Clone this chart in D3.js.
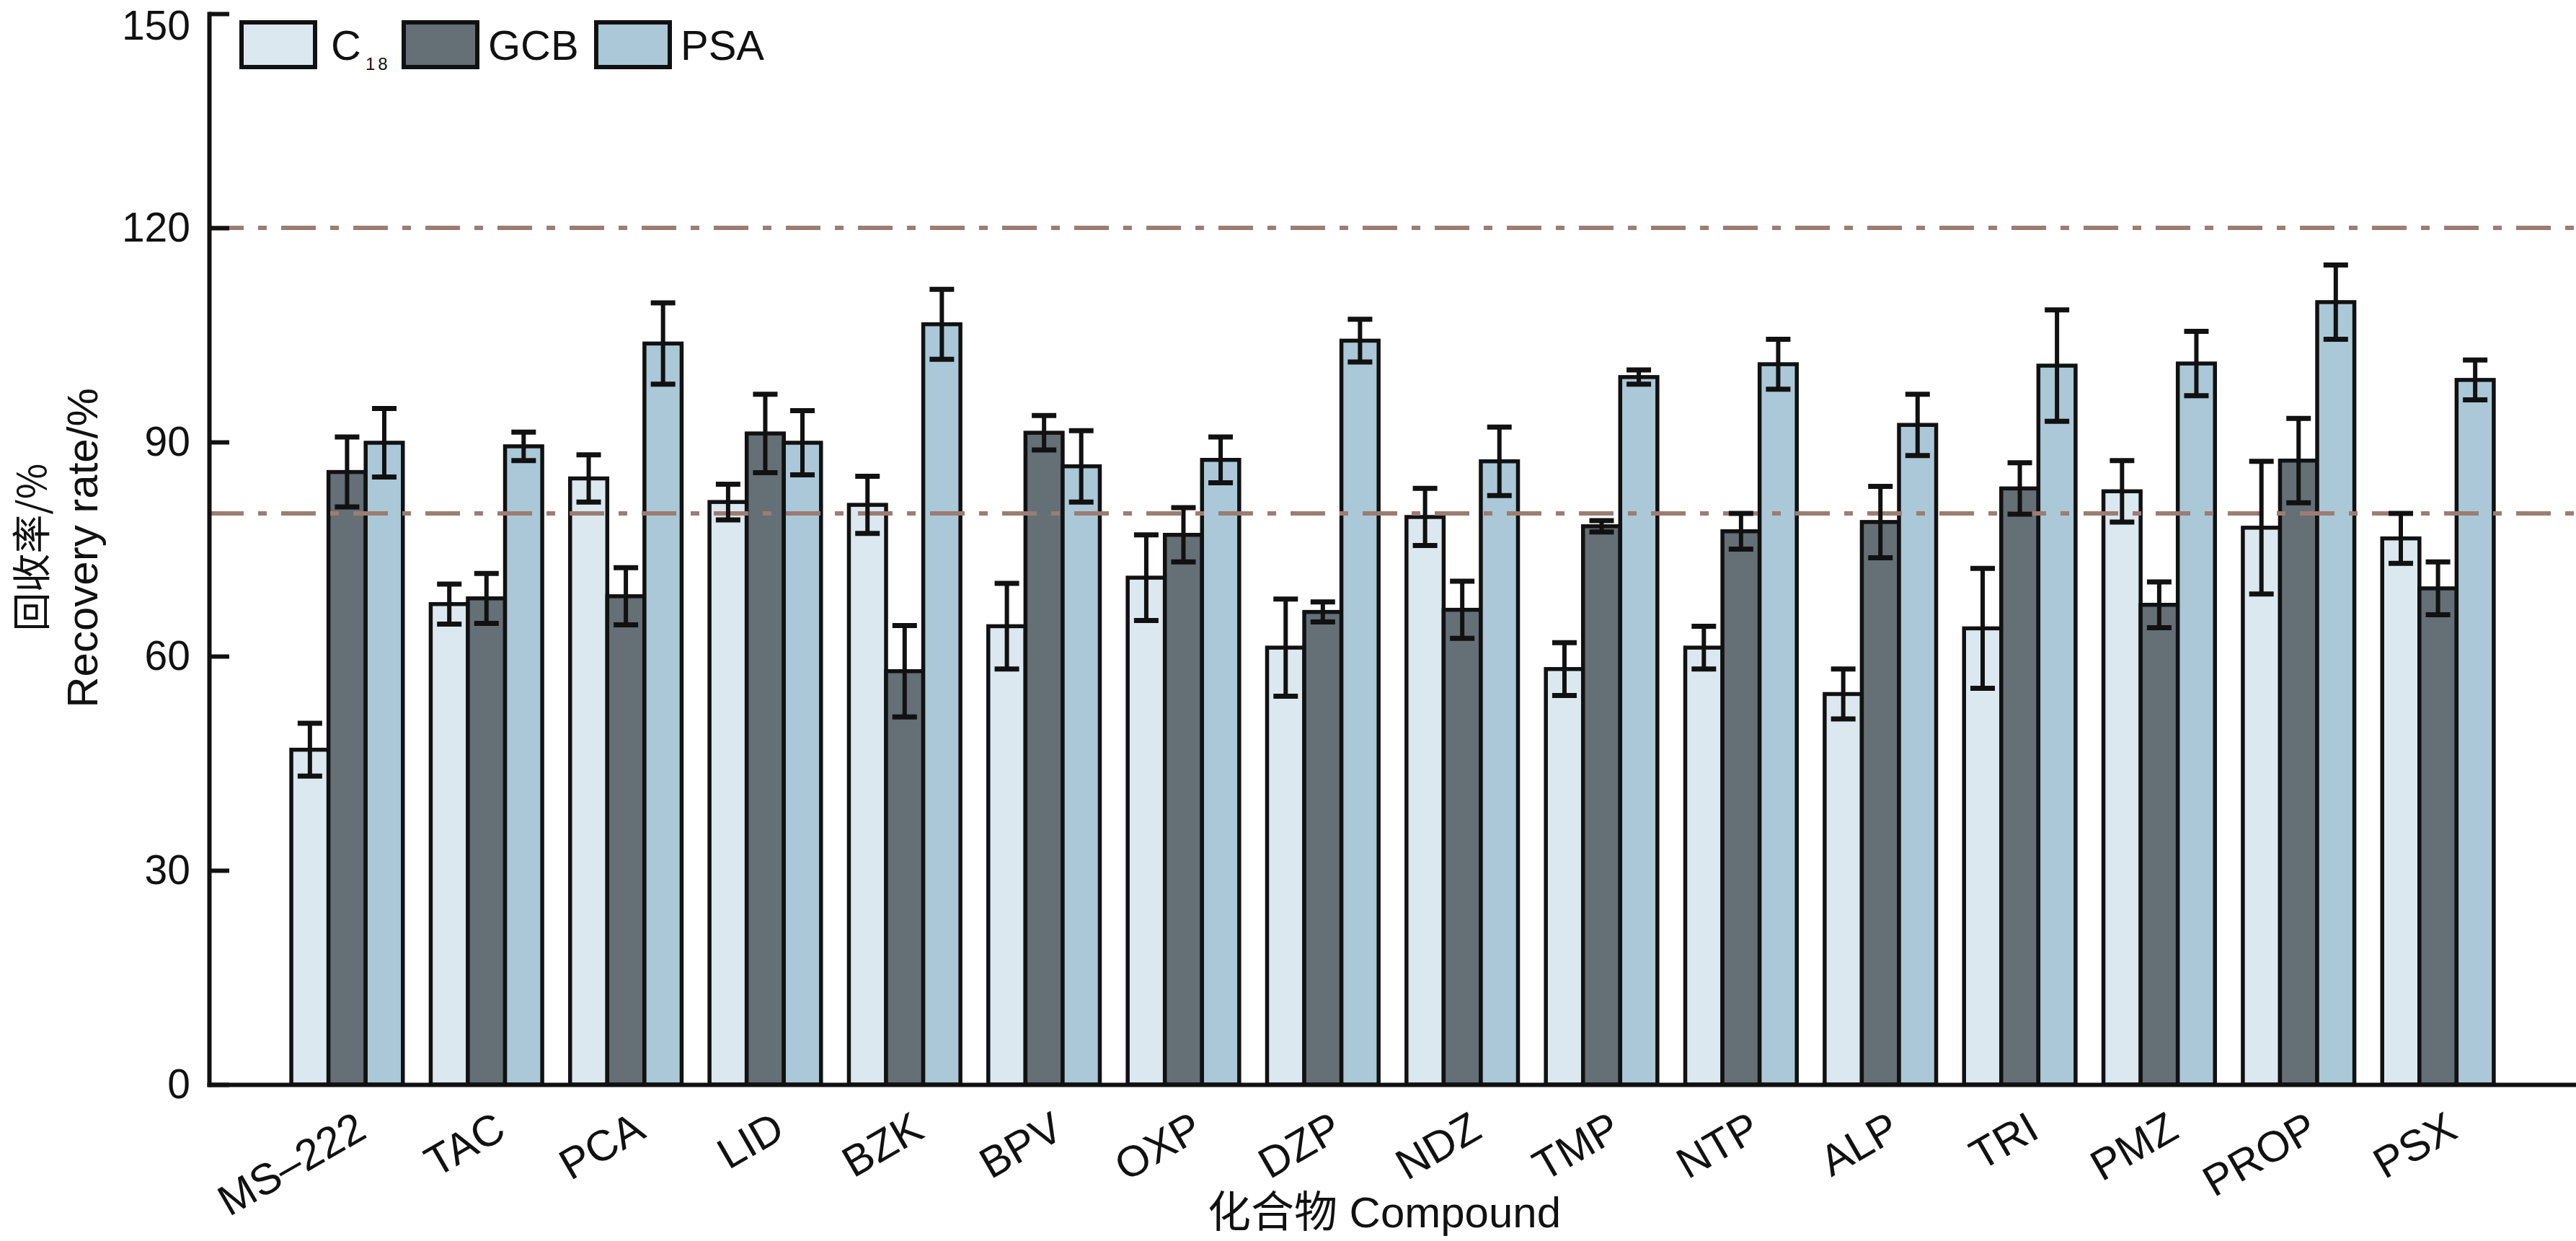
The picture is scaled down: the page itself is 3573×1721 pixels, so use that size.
<!DOCTYPE html>
<html>
<head>
<meta charset="utf-8">
<script src="https://cdn.jsdelivr.net/npm/d3@7"></script>
<style>
  body { margin: 0; background: #fff; }
  text { font-family: "Liberation Sans", Arial, sans-serif; fill: #111; }
</style>
</head>
<body>
<svg></svg>
<script>
const COMPOUNDS = ["MS–222", "TAC", "PCA", "LID", "BZK", "BPV", "OXP", "DZP",
  "NDZ", "TMP", "NTP", "ALP", "TRI", "PMZ", "PROP", "PSX"];
const SORBENTS = ["C18", "GCB", "PSA"];

const C18_MEAN = [46.9, 67.3, 84.9, 81.6, 81.2, 64.2, 71.0, 61.2, 79.5, 58.2, 61.2, 54.7, 63.9, 83.1, 78.0, 76.5];
const C18_ERR = [3.7, 2.8, 3.3, 2.5, 4.0, 6.0, 6.0, 6.8, 4.0, 3.7, 3.0, 3.5, 8.4, 4.3, 9.3, 3.5];
const GCB_MEAN = [85.8, 68.1, 68.4, 91.2, 57.9, 91.3, 77.0, 66.2, 66.5, 78.2, 77.5, 78.8, 83.5, 67.2, 87.4, 69.5];
const GCB_ERR = [4.9, 3.5, 4.0, 5.5, 6.4, 2.4, 3.8, 1.4, 4.0, 0.8, 2.5, 5.0, 3.6, 3.2, 5.9, 3.7];
const PSA_MEAN = [89.9, 89.4, 103.8, 89.9, 106.5, 86.6, 87.5, 104.2, 87.3, 99.1, 100.9, 92.4, 100.7, 101.0, 109.6, 98.7];
const PSA_ERR = [4.8, 2.0, 5.7, 4.5, 4.9, 5.0, 3.2, 3.0, 4.8, 1.0, 3.5, 4.3, 7.8, 4.5, 5.2, 2.8];

const Y_TICKS = [0, 30, 60, 90, 120, 150];
const LIMITS = [80, 120];

const COLORS = { C18: "#dce8ef", GCB: "#646f76", PSA: "#aac8d7" };
const LIMIT_COLOR = "#9b7d73";

const WIDTH = 3573;
const HEIGHT = 1721;
const AXIS_X = 290;
const AXIS_Y = 1504;

const means = { C18: C18_MEAN, GCB: GCB_MEAN, PSA: PSA_MEAN };
const errs = { C18: C18_ERR, GCB: GCB_ERR, PSA: PSA_ERR };

const data = [];
COMPOUNDS.forEach((c, i) => {
  SORBENTS.forEach((s) => {
    data.push({ compound: c, sorbent: s, value: means[s][i], err: errs[s][i] });
  });
});

const svg = d3.select("svg").attr("width", WIDTH).attr("height", HEIGHT);

const xScale = d3.scaleBand()
  .domain(COMPOUNDS)
  .range([AXIS_X, WIDTH])
  .paddingInner(0.2)
  .paddingOuter(0.59);

const xInner = d3.scaleBand()
  .domain(SORBENTS)
  .range([0, xScale.bandwidth()]);

const yScale = d3.scaleLinear().domain([0, 150]).range([AXIS_Y, 19]);

//bars
svg.append("g")
  .selectAll("rect")
  .data(data)
  .enter()
  .append("rect")
  .attr("x", (d) => xScale(d.compound) + xInner(d.sorbent))
  .attr("y", (d) => yScale(d.value))
  .attr("width", xInner.bandwidth())
  .attr("height", (d) => AXIS_Y - yScale(d.value))
  .attr("fill", (d) => COLORS[d.sorbent])
  .attr("stroke", "#111")
  .attr("stroke-width", 5.5);

//80% and 120% dash-dot lines
svg.append("g")
  .selectAll("line")
  .data(LIMITS)
  .enter()
  .append("line")
  .attr("x1", AXIS_X)
  .attr("x2", WIDTH)
  .attr("y1", (d) => yScale(d))
  .attr("y2", (d) => yScale(d))
  .attr("stroke", LIMIT_COLOR)
  .attr("stroke-width", 6)
  .attr("stroke-dasharray", "48,20,12,20");

//error bars
const CAP = 34;
const errG = svg.append("g").attr("stroke", "#111").attr("stroke-width", 6);
const cx = (d) => xScale(d.compound) + xInner(d.sorbent) + xInner.bandwidth() / 2;

errG.selectAll(".whisker")
  .data(data)
  .enter()
  .append("line")
  .classed("whisker", true)
  .attr("x1", cx)
  .attr("x2", cx)
  .attr("y1", (d) => yScale(d.value + d.err))
  .attr("y2", (d) => yScale(d.value - d.err));

errG.selectAll(".cap-top")
  .data(data)
  .enter()
  .append("line")
  .classed("cap-top", true)
  .attr("x1", (d) => cx(d) - CAP / 2)
  .attr("x2", (d) => cx(d) + CAP / 2)
  .attr("y1", (d) => yScale(d.value + d.err))
  .attr("y2", (d) => yScale(d.value + d.err))
  .attr("stroke-width", 7);

errG.selectAll(".cap-bottom")
  .data(data)
  .enter()
  .append("line")
  .classed("cap-bottom", true)
  .attr("x1", (d) => cx(d) - CAP / 2)
  .attr("x2", (d) => cx(d) + CAP / 2)
  .attr("y1", (d) => yScale(d.value - d.err))
  .attr("y2", (d) => yScale(d.value - d.err))
  .attr("stroke-width", 7);

//y axis, ticks point inwards
const yAxis = svg.append("g")
  .attr("transform", `translate(${AXIS_X},0)`)
  .call(d3.axisLeft(yScale).tickValues(Y_TICKS).tickSizeInner(-28).tickSizeOuter(0).tickPadding(26));
yAxis.select(".domain").attr("stroke", "#111").attr("stroke-width", 6).attr("stroke-linecap", "square");
yAxis.selectAll(".tick line").attr("stroke", "#111").attr("stroke-width", 6);
yAxis.selectAll(".tick text").attr("font-size", 57).attr("fill", "#111")
  .style("font-family", '"Liberation Sans", Arial, sans-serif');
// keep the top label inside the picture
yAxis.selectAll(".tick text").filter((d) => d === 150).attr("dy", "0.62em");

//x axis with compound names
const xAxis = svg.append("g")
  .attr("transform", `translate(0,${AXIS_Y})`)
  .call(d3.axisBottom(xScale).tickSize(0).tickSizeOuter(0));
xAxis.select(".domain").attr("stroke", "#111").attr("stroke-width", 6).attr("stroke-linecap", "square");
xAxis.selectAll(".tick text")
  .attr("x", 0)
  .attr("y", 0)
  .attr("dy", 0)
  .attr("transform", "translate(30,72) rotate(-30)")
  .attr("font-size", 60)
  .attr("fill", "#111")
  .style("text-anchor", "end")
  .style("font-family", '"Liberation Sans", Arial, sans-serif');

//axis titles
svg.append("text")
  .attr("transform", "translate(135,760) rotate(-90)")
  .attr("text-anchor", "middle")
  .attr("font-size", 60)
  .text("Recovery rate/%");

svg.append("text")
  .attr("transform", "translate(64,759) rotate(-90)")
  .attr("text-anchor", "middle")
  .attr("font-size", 54)
  .style("font-family", '"Noto Sans CJK SC", sans-serif')
  .text("回收率/%");

const xTitle = svg.append("text")
  .attr("x", 1920)
  .attr("y", 1702)
  .attr("text-anchor", "middle")
  .attr("font-size", 60);
xTitle.append("tspan").style("font-family", '"Noto Sans CJK SC", sans-serif').text("化合物");
xTitle.append("tspan").text(" Compound");

//legend
const LEGEND_X = [335, 560, 827];
const legend = svg.append("g")
  .selectAll("g")
  .data(SORBENTS)
  .enter()
  .append("g")
  .attr("transform", (d, i) => `translate(${LEGEND_X[i]},31)`);

legend.append("rect")
  .attr("width", 102)
  .attr("height", 62)
  .attr("fill", (d) => COLORS[d])
  .attr("stroke", "#111")
  .attr("stroke-width", 6);

legend.append("text")
  .attr("x", (d, i) => (i === 0 ? 124 : 117))
  .attr("y", 52)
  .attr("font-size", 58)
  .each(function (d) {
    const t = d3.select(this);
    if (d === "C18") {
      t.append("tspan").text("C");
      t.append("tspan").attr("font-size", 24).attr("dx", 6).attr("dy", 14)
        .attr("letter-spacing", 4).text("18");
    } else {
      t.text(d);
    }
  });
</script>
</body>
</html>
